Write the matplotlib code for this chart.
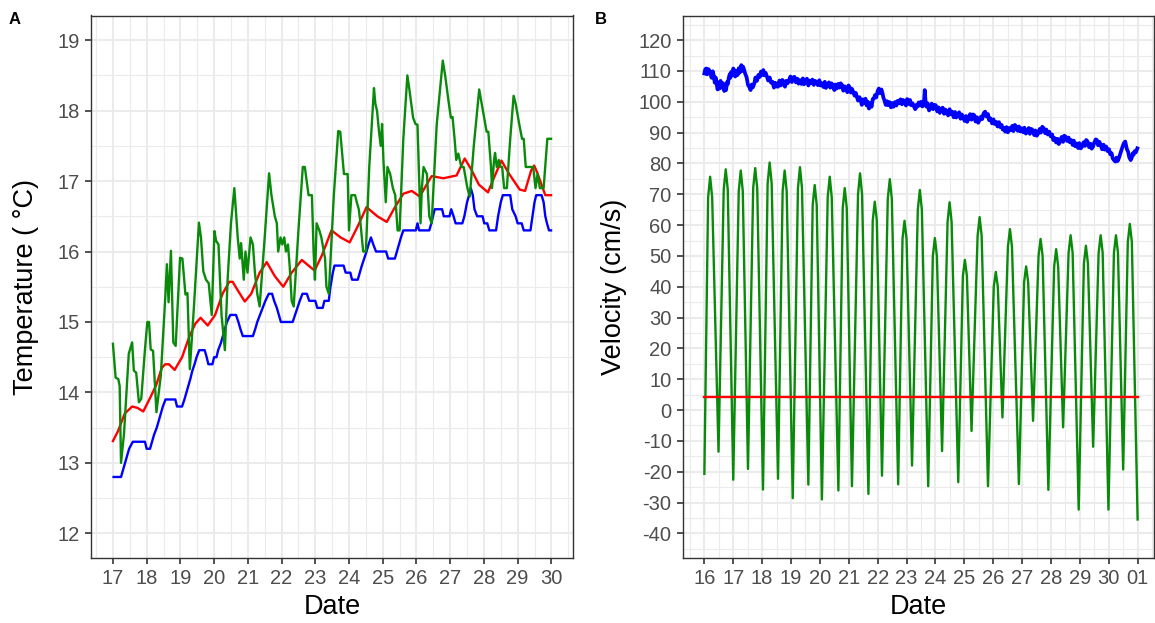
import matplotlib
matplotlib.use("Agg")
import matplotlib.pyplot as plt
from matplotlib.ticker import MultipleLocator

plt.rcParams['font.family'] = ['Liberation Sans', 'DejaVu Sans']
plt.rcParams['axes.unicode_minus'] = False

# ---- Panel A: temperature (day of month, deg C) ----
temp_blue_day = [17.02, 17.24, 17.30, 17.36, 17.42, 17.48, 17.59, 17.95, 18.00, 18.10, 18.16, 18.22, 18.30,
                 18.36, 18.42, 18.48, 18.56, 18.85, 18.90, 19.05, 19.12, 19.18, 19.24, 19.30, 19.35, 19.42,
                 19.48, 19.56, 19.72, 19.78, 19.83, 19.95, 20.00, 20.07, 20.12, 20.20, 20.26, 20.32, 20.38,
                 20.48, 20.65, 20.72, 20.78, 20.85, 21.15, 21.22, 21.28, 21.36, 21.44, 21.52, 21.62, 21.72,
                 21.78, 21.86, 21.92, 21.98, 22.33, 22.40, 22.47, 22.54, 22.62, 22.75, 22.82, 23.00, 23.06,
                 23.22, 23.27, 23.40, 23.45, 23.52, 23.57, 23.84, 23.90, 24.04, 24.09, 24.26, 24.32, 24.38,
                 24.45, 24.52, 24.58, 24.65, 24.72, 24.80, 25.10, 25.16, 25.36, 25.42, 25.48, 25.54, 25.61,
                 25.98, 26.03, 26.08, 26.38, 26.44, 26.49, 26.54, 26.76, 26.81, 26.98, 27.03, 27.10, 27.16,
                 27.36, 27.42, 27.50, 27.56, 27.61, 27.67, 27.72, 27.80, 27.96, 28.01, 28.10, 28.16, 28.36,
                 28.42, 28.50, 28.56, 28.78, 28.84, 28.94, 29.00, 29.12, 29.18, 29.38, 29.44, 29.50, 29.55,
                 29.71, 29.77, 29.82, 29.87, 29.93, 29.99]
temp_blue = [12.8, 12.8, 12.9, 13.0, 13.1, 13.2, 13.3, 13.3, 13.2, 13.2, 13.3, 13.4, 13.5,
             13.6, 13.7, 13.8, 13.9, 13.9, 13.8, 13.8, 13.9, 14.0, 14.1, 14.2, 14.3, 14.4,
             14.5, 14.6, 14.6, 14.5, 14.4, 14.4, 14.5, 14.5, 14.6, 14.7, 14.8, 14.9, 15.0,
             15.1, 15.1, 15.0, 14.9, 14.8, 14.8, 14.9, 15.0, 15.1, 15.2, 15.3, 15.4, 15.4,
             15.3, 15.2, 15.1, 15.0, 15.0, 15.1, 15.2, 15.3, 15.4, 15.4, 15.3, 15.3, 15.2,
             15.2, 15.3, 15.3, 15.5, 15.7, 15.8, 15.8, 15.7, 15.7, 15.6, 15.6, 15.7, 15.8,
             15.9, 16.0, 16.1, 16.2, 16.1, 16.0, 16.0, 15.9, 15.9, 16.0, 16.1, 16.2, 16.3,
             16.3, 16.4, 16.3, 16.3, 16.4, 16.5, 16.6, 16.6, 16.5, 16.5, 16.6, 16.5, 16.4,
             16.4, 16.5, 16.7, 16.8, 16.9, 16.8, 16.6, 16.5, 16.5, 16.4, 16.4, 16.3, 16.3,
             16.5, 16.7, 16.8, 16.8, 16.6, 16.5, 16.4, 16.4, 16.3, 16.3, 16.5, 16.7, 16.8,
             16.8, 16.7, 16.5, 16.4, 16.3, 16.3]

temp_red_day = [17.00, 17.15, 17.35, 17.57, 17.73, 17.90, 18.10, 18.28, 18.45, 18.55, 18.66, 18.83, 19.05,
                19.27, 19.45, 19.60, 19.81, 20.03, 20.25, 20.45, 20.55, 20.70, 20.91, 21.10, 21.35, 21.56,
                21.80, 22.05, 22.30, 22.60, 22.80, 22.98, 23.20, 23.48, 23.75, 24.02, 24.25, 24.52, 24.84,
                25.12, 25.35, 25.61, 25.86, 26.10, 26.30, 26.45, 26.80, 27.19, 27.43, 27.63, 27.85, 28.12,
                28.30, 28.52, 28.75, 29.06, 29.22, 29.40, 29.49, 29.58, 29.82, 29.99]
temp_red = [13.31, 13.45, 13.70, 13.80, 13.78, 13.73, 13.92, 14.10, 14.35, 14.40, 14.40, 14.32, 14.50,
            14.80, 14.98, 15.06, 14.95, 15.10, 15.40, 15.57, 15.57, 15.45, 15.29, 15.40, 15.70, 15.85,
            15.65, 15.50, 15.70, 15.88, 15.80, 15.73, 15.95, 16.30, 16.20, 16.13, 16.35, 16.63, 16.50,
            16.42, 16.62, 16.82, 16.86, 16.78, 16.95, 17.07, 17.04, 17.08, 17.32, 17.16, 16.95, 16.84,
            17.05, 17.29, 17.10, 16.88, 16.86, 17.15, 17.22, 17.12, 16.80, 16.80]

temp_green_day = [17.00, 17.08, 17.16, 17.20, 17.24, 17.33, 17.47, 17.57, 17.62, 17.69, 17.77, 17.84, 17.95,
                  18.02, 18.07, 18.12, 18.19, 18.29, 18.42, 18.55, 18.60, 18.65, 18.72, 18.79, 18.86, 18.99,
                  19.06, 19.15, 19.21, 19.28, 19.40, 19.55, 19.61, 19.68, 19.76, 19.84, 19.93, 20.01, 20.06,
                  20.13, 20.22, 20.32, 20.40, 20.50, 20.60, 20.70, 20.76, 20.80, 20.88, 20.93, 20.99, 21.08,
                  21.15, 21.21, 21.28, 21.35, 21.50, 21.63, 21.70, 21.80, 21.86, 21.90, 21.97, 22.02, 22.08,
                  22.13, 22.19, 22.24, 22.30, 22.36, 22.50, 22.63, 22.69, 22.80, 22.90, 22.95, 22.99, 23.04,
                  23.12, 23.18, 23.29, 23.33, 23.40, 23.55, 23.68, 23.74, 23.85, 23.96, 24.00, 24.07, 24.18,
                  24.23, 24.29, 24.34, 24.42, 24.50, 24.60, 24.74, 24.78, 24.83, 24.89, 24.94, 24.98, 25.02,
                  25.09, 25.14, 25.22, 25.30, 25.37, 25.44, 25.50, 25.61, 25.73, 25.79, 25.90, 25.97, 26.03,
                  26.08, 26.12, 26.16, 26.21, 26.31, 26.38, 26.45, 26.60, 26.78, 26.85, 26.96, 27.02, 27.07,
                  27.13, 27.18, 27.24, 27.33, 27.40, 27.51, 27.58, 27.70, 27.86, 27.97, 28.08, 28.13, 28.21,
                  28.24, 28.30, 28.33, 28.38, 28.44, 28.49, 28.54, 28.60, 28.68, 28.78, 28.88, 28.94, 29.05,
                  29.13, 29.18, 29.24, 29.35, 29.46, 29.53, 29.59, 29.66, 29.77, 29.88, 29.99]
temp_green = [14.69, 14.21, 14.19, 14.09, 13.00, 13.42, 14.55, 14.71, 14.31, 14.28, 13.86, 13.91, 14.61,
              15.00, 15.00, 14.61, 14.59, 13.72, 14.24, 15.33, 15.82, 15.28, 16.01, 14.71, 14.66, 15.91,
              15.90, 15.39, 15.41, 14.33, 15.20, 16.41, 16.20, 15.72, 15.60, 15.55, 15.10, 16.29, 16.15,
              16.10, 15.10, 14.60, 15.60, 16.40, 16.90, 16.20, 15.90, 16.12, 15.60, 16.00, 15.70, 16.20,
              16.10, 15.70, 15.40, 15.22, 16.20, 17.11, 16.80, 16.50, 16.40, 16.00, 16.20, 16.10, 16.20,
              16.00, 16.10, 15.80, 15.30, 15.22, 16.30, 17.20, 17.20, 16.80, 16.80, 16.00, 15.60, 16.40,
              16.30, 16.20, 15.90, 15.50, 15.40, 16.80, 17.71, 17.70, 17.10, 17.10, 16.30, 16.80, 16.80,
              16.70, 16.60, 16.40, 16.00, 16.00, 17.20, 18.32, 18.10, 18.00, 17.70, 17.50, 17.81, 17.30,
              16.70, 17.20, 17.10, 16.90, 16.80, 16.30, 16.30, 17.60, 18.50, 18.30, 17.90, 17.81, 17.80,
              17.00, 16.40, 16.90, 17.20, 17.10, 16.50, 16.40, 17.80, 18.71, 18.50, 18.10, 17.90, 17.91,
              17.60, 17.30, 17.39, 17.20, 17.20, 16.90, 16.78, 17.50, 18.30, 18.00, 17.70, 17.70, 17.20,
              16.90, 17.30, 17.40, 17.20, 17.30, 17.20, 17.20, 16.90, 16.90, 17.60, 18.21, 18.10, 17.80,
              17.60, 17.60, 17.20, 17.20, 17.20, 16.90, 17.10, 16.90, 16.90, 17.60, 17.60]

temp_ticks = [12, 13, 14, 15, 16, 17, 18, 19]
temp_day_ticks = list(range(17, 31))

# ---- Panel B: velocity (days from the 16th, cm/s) ----
vel_blue_day = [16.00, 16.03, 16.06, 16.10, 16.14, 16.20, 16.25, 16.29, 16.32, 16.36, 16.39, 16.42, 16.46,
                16.49, 16.52, 16.56, 16.60, 16.65, 16.69, 16.72, 16.75, 16.79, 16.82, 16.84, 16.88, 16.90,
                16.93, 16.97, 17.00, 17.03, 17.07, 17.11, 17.15, 17.19, 17.23, 17.28, 17.31, 17.34, 17.38,
                17.42, 17.45, 17.47, 17.51, 17.55, 17.60, 17.64, 17.68, 17.73, 17.77, 17.82, 17.87, 17.92,
                17.96, 18.00, 18.04, 18.08, 18.12, 18.17, 18.21, 18.26, 18.31, 18.36, 18.41, 18.45, 18.50,
                18.55, 18.60, 18.65, 18.70, 18.74, 18.79, 18.83, 18.88, 18.93, 18.98, 19.03, 19.07, 19.12,
                19.17, 19.22, 19.26, 19.31, 19.36, 19.41, 19.45, 19.50, 19.55, 19.60, 19.64, 19.69, 19.74,
                19.79, 19.83, 19.88, 19.93, 19.98, 20.02, 20.07, 20.12, 20.17, 20.21, 20.26, 20.31, 20.36,
                20.40, 20.45, 20.50, 20.54, 20.58, 20.63, 20.68, 20.72, 20.77, 20.81, 20.86, 20.90, 20.95,
                20.99, 21.03, 21.07, 21.11, 21.15, 21.20, 21.24, 21.28, 21.32, 21.37, 21.41, 21.45, 21.49,
                21.53, 21.58, 21.62, 21.66, 21.70, 21.75, 21.79, 21.83, 21.87, 21.91, 21.95, 22.00, 22.04,
                22.08, 22.13, 22.17, 22.20, 22.23, 22.28, 22.32, 22.36, 22.41, 22.46, 22.50, 22.55, 22.60,
                22.65, 22.69, 22.74, 22.79, 22.84, 22.88, 22.93, 22.98, 23.02, 23.07, 23.12, 23.16, 23.21,
                23.25, 23.30, 23.34, 23.37, 23.42, 23.46, 23.50, 23.55, 23.60, 23.63, 23.66, 23.69, 23.73,
                23.78, 23.82, 23.87, 23.92, 23.96, 24.01, 24.06, 24.11, 24.15, 24.20, 24.25, 24.30, 24.34,
                24.39, 24.44, 24.49, 24.53, 24.58, 24.63, 24.68, 24.72, 24.77, 24.82, 24.87, 24.91, 24.96,
                25.01, 25.06, 25.10, 25.15, 25.20, 25.25, 25.29, 25.34, 25.39, 25.44, 25.48, 25.53, 25.58,
                25.62, 25.67, 25.72, 25.77, 25.82, 25.86, 25.91, 25.96, 26.01, 26.05, 26.10, 26.15, 26.20,
                26.24, 26.29, 26.33, 26.37, 26.42, 26.46, 26.51, 26.56, 26.61, 26.66, 26.70, 26.75, 26.80,
                26.85, 26.89, 26.94, 26.99, 27.04, 27.08, 27.13, 27.18, 27.23, 27.27, 27.32, 27.37, 27.42,
                27.46, 27.51, 27.56, 27.61, 27.65, 27.70, 27.75, 27.80, 27.84, 27.89, 27.94, 27.99, 28.04,
                28.08, 28.13, 28.18, 28.23, 28.27, 28.32, 28.37, 28.42, 28.46, 28.51, 28.56, 28.61, 28.65,
                28.70, 28.75, 28.79, 28.84, 28.89, 28.94, 28.98, 29.03, 29.08, 29.13, 29.18, 29.22, 29.27,
                29.32, 29.37, 29.41, 29.46, 29.50, 29.55, 29.59, 29.63, 29.68, 29.72, 29.77, 29.82, 29.86,
                29.91, 29.96, 30.01, 30.05, 30.10, 30.14, 30.19, 30.23, 30.27, 30.31, 30.35, 30.40, 30.44,
                30.48, 30.52, 30.57, 30.60, 30.63, 30.67, 30.71, 30.76, 30.80, 30.83, 30.86, 30.90, 30.94,
                30.99]
vel_blue = [109.2, 110.5, 110.8, 108.9, 110.6, 109.7, 107.8, 109.9, 108.7, 106.2, 107.9, 106.0, 104.0,
            106.3, 104.3, 106.8, 104.6, 106.0, 103.5, 105.2, 103.8, 106.5, 105.9, 107.6, 109.0, 107.8,
            109.7, 108.6, 110.8, 110.3, 108.2, 110.0, 108.7, 110.9, 109.5, 111.9, 110.0, 111.4, 110.3,
            108.9, 108.3, 107.6, 105.5, 104.9, 103.8, 105.6, 104.7, 106.0, 107.9, 106.8, 108.7, 108.1,
            109.8, 108.7, 110.3, 108.6, 109.4, 108.1, 106.9, 107.9, 106.2, 106.5, 104.6, 106.2, 105.0,
            104.9, 106.9, 105.3, 107.1, 106.5, 104.9, 106.8, 106.0, 107.0, 108.2, 106.4, 107.9, 108.1,
            106.3, 107.5, 105.9, 107.0, 105.8, 107.6, 105.7, 106.5, 107.5, 105.3, 106.9, 106.0, 107.2,
            105.5, 106.8, 106.5, 105.4, 107.0, 105.3, 106.0, 104.8, 106.5, 104.5, 105.4, 106.3, 104.6,
            106.0, 105.4, 103.8, 105.6, 104.3, 105.8, 104.6, 106.0, 105.4, 103.6, 105.0, 104.3, 103.1,
            105.3, 104.7, 103.0, 104.2, 103.3, 102.0, 102.9, 101.6, 100.4, 101.5, 100.6, 99.0, 100.8,
            99.5, 101.0, 98.8, 100.0, 97.8, 99.6, 98.4, 100.9, 101.1, 102.2, 101.4, 103.5, 104.3,
            102.8, 104.0, 102.7, 101.3, 100.6, 99.0, 100.2, 98.9, 99.9, 98.2, 99.6, 98.4, 99.9,
            98.8, 100.3, 99.5, 100.8, 99.2, 100.6, 100.0, 98.8, 100.9, 99.3, 100.6, 98.9, 99.5,
            98.6, 97.6, 99.0, 98.4, 99.8, 98.8, 100.0, 98.5, 99.6, 103.8, 99.9, 98.4, 99.5,
            97.2, 97.9, 99.4, 97.6, 99.0, 98.9, 96.9, 98.2, 96.4, 97.3, 98.1, 96.1, 97.5,
            96.8, 95.6, 97.6, 96.0, 96.8, 95.0, 96.7, 94.9, 95.7, 96.6, 94.5, 95.9, 95.2,
            93.8, 95.4, 93.5, 94.6, 96.0, 94.2, 95.9, 95.7, 93.6, 95.0, 93.2, 94.1, 95.2,
            94.4, 96.3, 96.8, 95.2, 96.0, 94.0, 94.6, 93.0, 94.3, 92.8, 93.5, 92.0, 93.4,
            91.8, 92.5, 91.0, 91.6, 90.3, 91.8, 90.1, 91.5, 90.8, 92.2, 90.5, 92.5, 91.9,
            90.6, 92.0, 90.4, 91.4, 90.1, 91.6, 89.7, 90.3, 91.5, 89.6, 91.2, 90.8, 89.2,
            90.7, 89.0, 89.8, 91.2, 90.0, 91.9, 91.4, 89.8, 91.0, 89.4, 90.3, 88.8, 89.4,
            87.6, 88.2, 86.8, 88.0, 86.3, 87.1, 88.6, 87.0, 89.0, 88.7, 87.3, 88.4, 86.9,
            87.6, 86.0, 87.4, 85.6, 86.5, 85.0, 86.6, 84.9, 85.5, 86.9, 85.7, 87.6, 87.1,
            85.3, 86.4, 84.8, 85.5, 86.8, 87.8, 87.6, 85.9, 87.0, 86.0, 84.6, 86.1, 84.5,
            85.5, 84.0, 84.6, 83.0, 83.3, 81.6, 81.0, 80.6, 81.9, 80.8, 81.7, 83.2, 84.4,
            85.5, 86.5, 87.1, 85.9, 84.6, 83.8, 82.0, 81.1, 81.9, 83.3, 82.8, 84.0, 83.6,
            84.9]

vel_green_day = [16.00, 16.13, 16.20, 16.27, 16.49, 16.67, 16.74, 16.81, 17.00, 17.19, 17.26, 17.33, 17.51,
                 17.69, 17.76, 17.83, 18.03, 18.19, 18.26, 18.33, 18.55, 18.71, 18.78, 18.85, 19.06, 19.24,
                 19.31, 19.38, 19.60, 19.75, 19.82, 19.89, 20.07, 20.27, 20.34, 20.41, 20.64, 20.79, 20.86,
                 20.93, 21.11, 21.32, 21.39, 21.46, 21.68, 21.83, 21.90, 21.97, 22.15, 22.35, 22.42, 22.49,
                 22.71, 22.86, 22.93, 23.00, 23.19, 23.39, 23.46, 23.53, 23.75, 23.91, 23.98, 24.05, 24.23,
                 24.42, 24.49, 24.56, 24.79, 24.95, 25.02, 25.09, 25.25, 25.46, 25.53, 25.60, 25.82, 26.02,
                 26.09, 26.16, 26.32, 26.51, 26.58, 26.65, 26.89, 27.07, 27.14, 27.21, 27.38, 27.57, 27.64,
                 27.71, 27.91, 28.11, 28.18, 28.25, 28.42, 28.61, 28.68, 28.75, 28.96, 29.14, 29.21, 29.28,
                 29.46, 29.65, 29.72, 29.79, 29.99, 30.18, 30.25, 30.32, 30.50, 30.66, 30.73, 30.80, 31.00]
vel_green = [-20.7, 69.0, 75.7, 69.0, -13.5, 71.5, 78.1, 71.5, -22.6, 71.0, 77.7, 71.0, -19.1,
             72.0, 78.5, 72.0, -25.8, 73.5, 80.3, 73.5, -22.3, 71.0, 77.7, 71.0, -28.6, 72.0,
             78.8, 72.0, -24.2, 66.5, 73.0, 66.5, -29.0, 69.0, 75.7, 69.0, -26.1, 65.5, 72.0,
             65.5, -24.7, 70.0, 76.8, 70.0, -27.2, 61.5, 67.6, 61.5, -21.3, 68.5, 74.9, 68.5,
             -24.1, 55.5, 61.4, 55.5, -18.0, 65.0, 71.4, 65.0, -24.7, 50.0, 55.8, 50.0, -13.3,
             61.0, 67.4, 61.0, -23.4, 43.5, 48.7, 43.5, -6.8, 56.5, 62.6, 56.5, -24.7, 40.0,
             44.8, 40.0, -2.4, 53.0, 58.7, 53.0, -24.0, 41.5, 46.6, 41.5, -3.5, 50.0, 55.5,
             50.0, -25.9, 46.5, 52.2, 46.5, -5.6, 51.0, 56.7, 51.0, -32.3, 47.5, 53.3, 47.5,
             -11.9, 51.0, 56.7, 51.0, -32.3, 51.0, 56.7, 51.0, -19.3, 54.5, 60.4, 54.5, -35.5]

vel_red_day = [16.0, 31.0]
vel_red = [4.1, 4.1]

vel_ticks = list(range(-40, 121, 10))
vel_day_ticks = list(range(16, 32))
vel_day_labels = [str(d) for d in range(16, 31)] + ['01']

# ---- colours ----
c_blue = '#0000ff'
c_red = '#ff0000'
c_green = '#0a8a0a'
grid_col = '#ebebeb'
tick_col = '#4d4d4d'
frame_col = '#333333'


def style_axes(ax):
    ax.set_axisbelow(True)
    ax.grid(which='major', color=grid_col, lw=1.5)
    ax.grid(which='minor', color=grid_col, lw=0.8)
    for s in ax.spines.values():
        s.set_color(frame_col)
        s.set_linewidth(1.0)
    ax.tick_params(which='major', length=4, width=1.2, color=frame_col,
                   labelsize=14.5, labelcolor=tick_col, pad=4)
    ax.tick_params(which='minor', length=0)


fig = plt.figure(figsize=(11.55, 6.23), dpi=100)

# Panel A
axA = fig.add_axes([91 / 1155, 1 - 558 / 623, (573.3 - 91) / 1155, (558 - 15.5) / 623])
axA.plot(temp_blue_day, temp_blue, color=c_blue, lw=1.7)
axA.plot(temp_red_day, temp_red, color=c_red, lw=1.7)
axA.plot(temp_green_day, temp_green, color=c_green, lw=1.7)
axA.set_xlim(16.35, 30.65)
axA.set_ylim(11.65, 19.35)
axA.set_xticks(temp_day_ticks)
axA.set_yticks(temp_ticks)
axA.xaxis.set_minor_locator(MultipleLocator(0.5))
axA.yaxis.set_minor_locator(MultipleLocator(0.5))
style_axes(axA)
axA.set_xlabel('Date', fontsize=19.5)
axA.set_ylabel('Temperature ( °C)', fontsize=19.5)
axA.xaxis.set_label_coords(0.5, -0.09)
axA.xaxis.label.set_verticalalignment('center')
axA.yaxis.set_label_coords(-0.135, 0.5)
axA.yaxis.label.set_verticalalignment('center')

# Panel B
axB = fig.add_axes([682.7 / 1155, 1 - 558 / 623, (1153.5 - 682.7) / 1155, (558 - 15.5) / 623])
axB.plot(vel_blue_day, vel_blue, color=c_blue, lw=2.7)
axB.plot(vel_green_day, vel_green, color=c_green, lw=1.7)
axB.plot(vel_red_day, vel_red, color=c_red, lw=1.7)
axB.set_xlim(15.25, 31.55)
axB.set_ylim(-48, 128)
axB.set_xticks(vel_day_ticks)
axB.set_xticklabels(vel_day_labels)
axB.set_yticks(vel_ticks)
axB.xaxis.set_minor_locator(MultipleLocator(0.5))
axB.yaxis.set_minor_locator(MultipleLocator(5))
style_axes(axB)
axB.set_xlabel('Date', fontsize=19.5)
axB.set_ylabel('Velocity (cm/s)', fontsize=19.5)
axB.xaxis.set_label_coords(0.5, -0.09)
axB.xaxis.label.set_verticalalignment('center')
axB.yaxis.set_label_coords(-0.146, 0.5)
axB.yaxis.label.set_verticalalignment('center')

fig.text(15 / 1155, 1 - 20 / 623, 'A', fontsize=12, fontweight='bold', ha='center', va='center')
fig.text(601 / 1155, 1 - 20 / 623, 'B', fontsize=12, fontweight='bold', ha='center', va='center')

fig.savefig('out.png', dpi=100)
